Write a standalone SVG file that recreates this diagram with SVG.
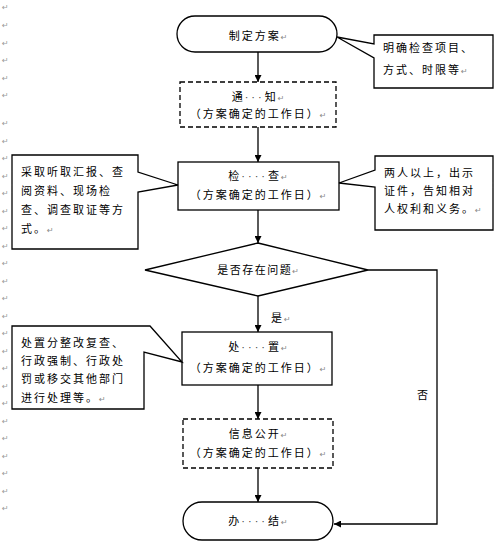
<svg xmlns="http://www.w3.org/2000/svg" width="503" height="557" viewBox="0 0 503 557">
<defs>
<marker id="ah" viewBox="0 0 10 10" refX="10" refY="5" markerWidth="7" markerHeight="7" markerUnits="userSpaceOnUse" orient="auto">
<path d="M0,0 L10,5 L0,10 Z" fill="#000"/>
</marker>
</defs>
<style>
.box{fill:#fff;stroke:#000;stroke-width:1.3}
.dash{fill:#fff;stroke:#000;stroke-width:1.3;stroke-dasharray:5,3}
.t{font-family:"Noto Sans CJK SC","Noto Sans",sans-serif;font-size:11px;fill:#000;letter-spacing:2px}
.c{text-anchor:middle}
.d{font-family:"Liberation Sans",sans-serif;letter-spacing:3px;fill:#444}
.pm{font-family:"DejaVu Sans",sans-serif;font-size:8px;fill:#888;letter-spacing:0}
.m{font-family:"DejaVu Sans",sans-serif;font-size:8px;fill:#999}
.ln{fill:none;stroke:#000;stroke-width:1.3}
</style>
<rect width="503" height="557" fill="#fff"/>
<g id="margin-marks">
<text class="m" x="2" y="10">↵</text><text class="m" x="2" y="28">↵</text><text class="m" x="2" y="46">↵</text><text class="m" x="2" y="63">↵</text><text class="m" x="2" y="81">↵</text><text class="m" x="2" y="98">↵</text><text class="m" x="2" y="126">↵</text><text class="m" x="2" y="144">↵</text><text class="m" x="2" y="161">↵</text><text class="m" x="2" y="179">↵</text><text class="m" x="2" y="196">↵</text><text class="m" x="2" y="214">↵</text><text class="m" x="2" y="231">↵</text><text class="m" x="2" y="249">↵</text><text class="m" x="2" y="266">↵</text><text class="m" x="2" y="284">↵</text><text class="m" x="2" y="301">↵</text><text class="m" x="2" y="319">↵</text><text class="m" x="2" y="336">↵</text><text class="m" x="2" y="354">↵</text><text class="m" x="2" y="371">↵</text><text class="m" x="2" y="389">↵</text><text class="m" x="2" y="406">↵</text><text class="m" x="2" y="424">↵</text><text class="m" x="2" y="441">↵</text><text class="m" x="2" y="459">↵</text><text class="m" x="2" y="476">↵</text><text class="m" x="2" y="494">↵</text><text class="m" x="2" y="511">↵</text>
</g>
<g id="connectors">
<line class="ln" x1="258" y1="52" x2="258" y2="82" marker-end="url(#ah)"/>
<line class="ln" x1="258" y1="127" x2="258" y2="162" marker-end="url(#ah)"/>
<line class="ln" x1="258" y1="210" x2="258" y2="243" marker-end="url(#ah)"/>
<line class="ln" x1="258" y1="296" x2="258" y2="332" marker-end="url(#ah)"/>
<line class="ln" x1="258" y1="385" x2="258" y2="419" marker-end="url(#ah)"/>
<line class="ln" x1="258" y1="468" x2="258" y2="502" marker-end="url(#ah)"/>
<path class="ln" d="M368,270 H437 V524 H334" marker-end="url(#ah)"/>
<text class="t" x="271" y="322">是<tspan class="pm">↵</tspan></text>
<text class="t" x="417" y="399">否</text>
</g>
<g id="start">
<rect class="box" x="177" y="16" width="160" height="36" rx="18"/>
<text class="t c" x="258" y="40">制定方案<tspan class="pm">↵</tspan></text>
</g>
<g id="note-scope">
<path class="box" d="M374,35 H493 V88 H374 V58 L337,37 L374,44 Z"/>
<text class="t" x="383" y="52">明确检查项目、</text>
<text class="t" x="383" y="74">方式、时限等<tspan class="pm">↵</tspan></text>
</g>
<g id="notify">
<rect class="dash" x="180" y="82" width="156" height="45"/>
<text class="t c" x="258" y="101">通<tspan class="d">···</tspan>知<tspan class="pm">↵</tspan></text>
<text class="t c" x="258" y="118">（方案确定的工作日）<tspan class="pm">↵</tspan></text>
</g>
<g id="check">
<rect class="box" x="178" y="162" width="161" height="48"/>
<text class="t c" x="258" y="180">检<tspan class="d">····</tspan>查<tspan class="pm">↵</tspan></text>
<text class="t c" x="258" y="199">（方案确定的工作日）<tspan class="pm">↵</tspan></text>
</g>
<g id="note-methods">
<path class="box" d="M12,155 H138 V172 L178,185 L138,192 V249 H12 Z"/>
<text class="t" x="21" y="176">采取听取汇报、查</text>
<text class="t" x="21" y="195">阅资料、现场检</text>
<text class="t" x="21" y="214">查、调查取证等方</text>
<text class="t" x="21" y="233">式。<tspan class="pm">↵</tspan></text>
</g>
<g id="note-rights">
<path class="box" d="M375,156 H493 V230 H375 V187 L339,183 L375,170 Z"/>
<text class="t" x="384" y="177">两人以上，出示</text>
<text class="t" x="384" y="195">证件，告知相对</text>
<text class="t" x="384" y="213">人权利和义务。<tspan class="pm">↵</tspan></text>
</g>
<g id="decision">
<polygon class="box" points="258,243 368,270 258,296 145,270"/>
<text class="t c" x="258" y="274" style="letter-spacing:1.5px">是否存在问题<tspan class="pm">↵</tspan></text>
</g>
<g id="handle">
<rect class="box" x="182" y="332" width="150" height="53"/>
<text class="t c" x="258" y="351">处<tspan class="d">····</tspan>置<tspan class="pm">↵</tspan></text>
<text class="t c" x="258" y="372">（方案确定的工作日）<tspan class="pm">↵</tspan></text>
</g>
<g id="note-handle">
<path class="box" d="M12,326 H150 L182,362 L144,352 V409 H12 Z"/>
<text class="t" x="21" y="347">处置分整改复查、</text>
<text class="t" x="21" y="365">行政强制、行政处</text>
<text class="t" x="21" y="383">罚或移交其他部门</text>
<text class="t" x="21" y="402">进行处理等。<tspan class="pm">↵</tspan></text>
</g>
<g id="publish">
<rect class="dash" x="183" y="419" width="150" height="49"/>
<text class="t c" x="258" y="438">信息公开<tspan class="pm">↵</tspan></text>
<text class="t c" x="258" y="457">（方案确定的工作日）<tspan class="pm">↵</tspan></text>
</g>
<g id="end">
<rect class="box" x="183" y="502" width="150" height="38" rx="19"/>
<text class="t c" x="258" y="525">办<tspan class="d">····</tspan>结<tspan class="pm">↵</tspan></text>
</g>
</svg>
